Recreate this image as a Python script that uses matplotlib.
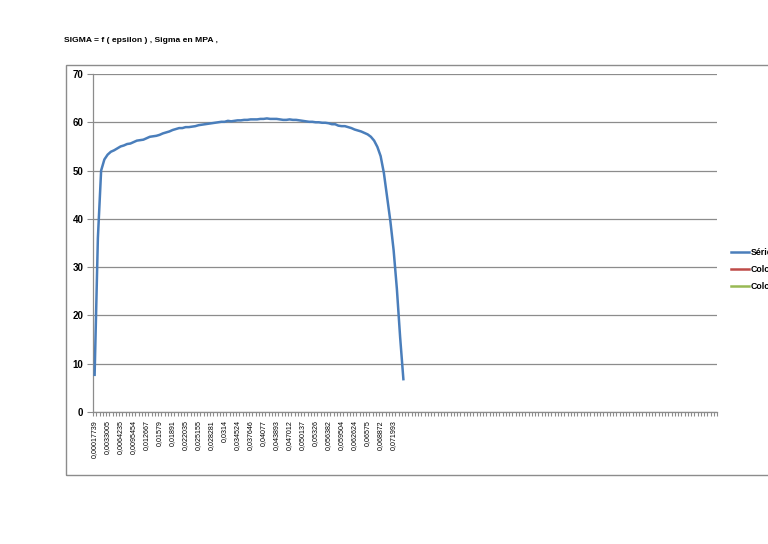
import matplotlib
matplotlib.use('Agg')
import matplotlib.pyplot as plt
from matplotlib.patches import Rectangle
from matplotlib.lines import Line2D

# sigma (MPa) for each strain category
sigma = [7.7, 36.0, 50.0, 52.3, 53.3, 53.9, 54.2, 54.6, 55.0, 55.2,
         55.5, 55.6, 55.9, 56.2, 56.3, 56.4, 56.7, 57.0, 57.1, 57.2,
         57.4, 57.7, 57.9, 58.1, 58.4, 58.6, 58.8, 58.8, 59.0, 59.0,
         59.1, 59.2, 59.4, 59.5, 59.6, 59.7, 59.8, 59.9, 60.0, 60.1,
         60.1, 60.3, 60.2, 60.3, 60.4, 60.4, 60.5, 60.5, 60.6, 60.6,
         60.6, 60.7, 60.7, 60.8, 60.7, 60.7, 60.7, 60.6, 60.5, 60.5,
         60.6, 60.5, 60.5, 60.4, 60.3, 60.2, 60.1, 60.1, 60.0, 60.0,
         59.9, 59.9, 59.8, 59.6, 59.6, 59.3, 59.2, 59.2, 59.0, 58.8,
         58.5, 58.3, 58.1, 57.8, 57.5, 57.0, 56.2, 54.9, 53.0, 49.5,
         44.5, 39.5, 33.5, 25.5, 15.5, 6.8]

# epsilon labels shown on the category axis (one every 4 categories)
eps_labels = ['0,00017739', '0,0033005', '0,0064235', '0,0095454', '0,012667',
              '0,01579', '0,01891', '0,022035', '0,025155', '0,028281',
              '0,0314', '0,034524', '0,037646', '0,04077', '0,043893',
              '0,047012', '0,050137', '0,05326', '0,056382', '0,059504',
              '0,062624', '0,06575', '0,068872', '0,071993']
label_step = 4
n_categories = 192

legend_names = ['Série1', 'Colonne1', 'Colonne2']
legend_colors = ['#4A7EBB', '#BE4B48', '#98B954']


def main():
    plt.rcParams['font.family'] = ['Liberation Sans Narrow', 'Liberation Sans', 'DejaVu Sans']
    fig = plt.figure(figsize=(7.68, 5.44), dpi=100)

    # outer chart frame
    fig.patches.append(Rectangle((66 / 768, 1 - 475 / 544), 710 / 768, 410 / 544,
                                 transform=fig.transFigure, fill=False,
                                 edgecolor='#8c8c8c', linewidth=1.0))

    fig.text(64 / 768, 1 - 40 / 544, 'SIGMA = f ( epsilon ) , Sigma en MPA ,',
             fontsize=6.1, fontweight='bold', va='center', ha='left')

    ax = fig.add_axes([93 / 768, 1 - 412 / 544, 624 / 768, 338 / 544])
    ax.plot(range(len(sigma)), sigma, color=legend_colors[0], linewidth=1.8,
            solid_joinstyle='round', zorder=3)

    ax.set_xlim(-0.5, n_categories - 0.5)
    ax.set_ylim(0, 70)
    ax.set_yticks(range(0, 71, 10))
    ax.yaxis.grid(True, color='#8c8c8c', linewidth=0.9)
    ax.set_axisbelow(True)

    ax.set_xticks([i * label_step for i in range(len(eps_labels))])
    ax.set_xticklabels(eps_labels, rotation=90, fontsize=5.1)
    ax.set_xticks([i - 0.5 for i in range(n_categories + 1)], minor=True)
    ax.tick_params(axis='x', which='major', length=0, pad=6)
    ax.tick_params(axis='x', which='minor', length=3, color='#8c8c8c', width=0.8)
    ax.tick_params(axis='y', length=4, color='#8c8c8c', labelsize=7, pad=3)
    for t in ax.get_yticklabels():
        t.set_fontweight('bold')

    for side in ['top', 'right']:
        ax.spines[side].set_visible(False)
    for side in ['left', 'bottom']:
        ax.spines[side].set_color('#8c8c8c')
        ax.spines[side].set_linewidth(0.9)

    # legend, cut by the right edge of the figure as in the source chart
    handles = [Line2D([], [], color=c, linewidth=1.8) for c in legend_colors]
    leg = fig.legend(handles, legend_names, loc='upper left',
                     bbox_to_anchor=(731 / 768, 1 - 248 / 544), frameon=False,
                     fontsize=6.3, handlelength=2.1, handletextpad=0.15,
                     labelspacing=0.9, borderaxespad=0, borderpad=0)
    for t in leg.get_texts():
        t.set_fontweight('bold')

    fig.savefig('out.png', dpi=100)


if __name__ == '__main__':
    main()
